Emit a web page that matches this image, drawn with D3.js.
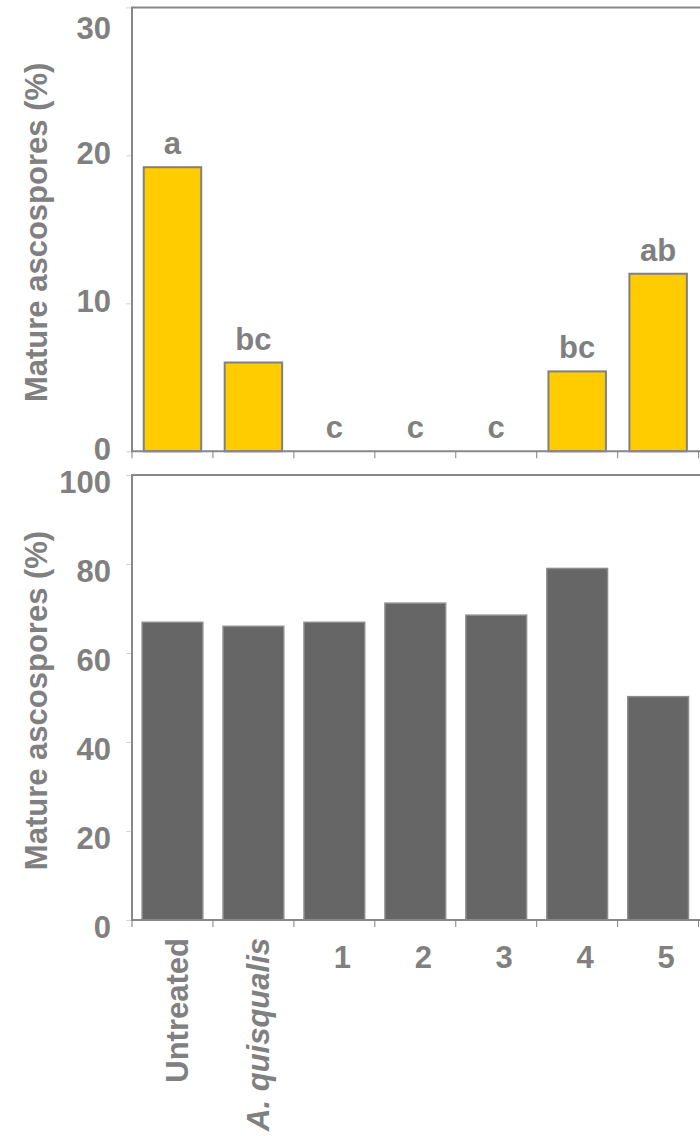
<!DOCTYPE html>
<html>
<head>
<meta charset="utf-8">
<script src="https://cdn.jsdelivr.net/npm/d3@7"></script>
<style>
  html, body { margin: 0; padding: 0; background: #ffffff; }
  svg { display: block; }
  text { font-family: "Liberation Sans", Arial, sans-serif; font-weight: bold; fill: #808080; }
</style>
</head>
<body>
<div id="chart"></div>
<script>
// ---- data ----
const categories = ["Untreated", "A. quisqualis", "1", "2", "3", "4", "5"];
const italicCategories = ["A. quisqualis"];
const topValues = [19.2, 6.0, 0, 0, 0, 5.4, 12.0];
const topLetters = ["a", "bc", "c", "c", "c", "bc", "ab"];
const bottomValues = [66.9, 66.0, 66.9, 71.2, 68.5, 79.0, 50.2];
const topTicks = [0, 10, 20, 30];
const bottomTicks = [0, 20, 40, 60, 80, 100];
const yTitle = "Mature ascospores (%)";

// ---- layout ----
const W = 700, H = 1136;
const left = 132, right = 698.6, frameRight = 760;
const grey = "#808080";
const fontSize = 31;

const svg = d3.select("#chart").append("svg").attr("width", W).attr("height", H);
svg.append("rect").attr("width", W).attr("height", H).attr("fill", "#fff");

function panel(cfg) {
  const x = d3.scaleBand().domain(categories).range([left, right])
    .paddingInner(cfg.pad).paddingOuter(cfg.pad / 2);
  const y = d3.scaleLinear().domain([0, cfg.max]).range([cfg.bottom, cfg.top]);
  const g = svg.append("g");

  // y axis ticks + labels
  const ax = g.append("g").attr("transform", `translate(${left},0)`)
    .call(d3.axisLeft(y).tickValues(cfg.ticks).tickSize(6).tickPadding(15).tickFormat(d3.format("d")));
  ax.select(".domain").remove();
  ax.selectAll(".tick line").attr("stroke", "#d4d4d4").attr("stroke-width", 1);
  ax.selectAll(".tick text").attr("font-size", fontSize).attr("fill", grey)
    .attr("font-family", "'Liberation Sans', Arial, sans-serif").attr("font-weight", "bold")
    .attr("dy", "0.35em")
    .attr("y", d => Math.max(y(d) + cfg.labelShift, 28) - y(d));

  // bars
  g.selectAll("rect.bar").data(categories.map((c, i) => ({c, v: cfg.values[i]})).filter(d => d.v > 0))
    .enter().append("rect").attr("class", "bar")
    .attr("x", d => x(d.c)).attr("width", x.bandwidth())
    .attr("y", d => y(d.v)).attr("height", d => y(0) - y(d.v))
    .attr("fill", cfg.fill).attr("stroke", cfg.stroke).attr("stroke-width", cfg.strokeW);

  // frame (left, top, bottom)
  g.append("path")
    .attr("d", `M${frameRight},${y(cfg.max)}H${left}V${y(0)}H${frameRight}`)
    .attr("fill", "none").attr("stroke", "#888888").attr("stroke-width", 2);

  // x ticks at band boundaries
  const bounds = d3.range(0, categories.length + 1).map(i => left + i * x.step());
  g.selectAll("line.xt").data(bounds).enter().append("line")
    .attr("x1", d => d).attr("x2", d => d)
    .attr("y1", y(0)).attr("y2", y(0) + 7)
    .attr("stroke", grey).attr("stroke-width", 1);

  // significance letters
  if (cfg.letters) {
    g.selectAll("text.lt").data(categories).enter().append("text")
      .attr("x", d => x(d) + x.bandwidth() / 2)
      .attr("y", (d, i) => y(cfg.values[i]) - 13)
      .attr("text-anchor", "middle").attr("font-size", fontSize)
      .text((d, i) => cfg.letters[i]);
  }

  // y title
  g.append("text")
    .attr("transform", `translate(47,${(y(0) + y(cfg.max)) / 2 + 3}) rotate(-90)`)
    .attr("text-anchor", "middle").attr("font-size", fontSize)
    .text(yTitle);

  return {x, y};
}

panel({top: 7.4, bottom: 451.3, max: 30, ticks: topTicks, values: topValues,
       letters: topLetters, pad: 0.29, fill: "#FFCC00", stroke: grey, strokeW: 2, labelShift: -3});
const p2 = panel({top: 475, bottom: 920, max: 100, ticks: bottomTicks, values: bottomValues,
       pad: 0.25, fill: "#666666", stroke: "#8c8c8c", strokeW: 1.5, labelShift: 7});

// category labels under bottom panel
const x = p2.x;
categories.forEach((c, i) => {
  const cx = x(c) + x.bandwidth() / 2;
  if (c.length > 2) {
    svg.append("text")
      .attr("transform", `translate(${cx + 16},938) rotate(-90)`)
      .attr("text-anchor", "end").attr("font-size", fontSize)
      .attr("font-style", italicCategories.includes(c) ? "italic" : "normal")
      .text(c);
  } else {
    svg.append("text")
      .attr("x", cx + 8).attr("y", 968)
      .attr("text-anchor", "middle").attr("font-size", fontSize)
      .text(c);
  }
});
</script>
</body>
</html>
